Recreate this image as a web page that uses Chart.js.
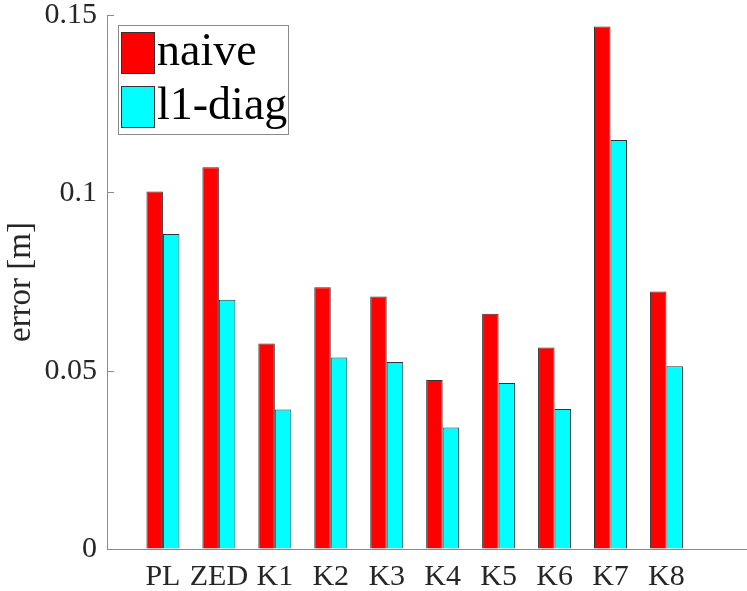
<!DOCTYPE html>
<html>
<head>
<meta charset="utf-8">
<script src="https://cdn.jsdelivr.net/npm/chart.js@4/dist/chart.umd.min.js"></script>
<style>
  html, body { margin: 0; padding: 0; background: #fff; }
  canvas { display: block; }
</style>
</head>
<body>
<canvas id="chart" width="747" height="591"></canvas>
<script>
// Data
const categories = ['PL', 'ZED', 'K1', 'K2', 'K3', 'K4', 'K5', 'K6', 'K7', 'K8'];
const naive = [0.1004, 0.1072, 0.0577, 0.0735, 0.0709, 0.0475, 0.0661, 0.0566, 0.1468, 0.0723];
const l1Diag = [0.0885, 0.0700, 0.0392, 0.0538, 0.0525, 0.0341, 0.0466, 0.0393, 0.1149, 0.0513];
const yTicks = [0, 0.05, 0.1, 0.15];

const serif = '"Liberation Serif", "Times New Roman", serif';
const axisColor = '#8a8a8a';
const textColor = '#262626';

// MATLAB-like legend box drawn inside the axes (top-left)
const boxLegend = {
  id: 'boxLegend',
  afterDraw(chart) {
    const { ctx, chartArea } = chart;
    const x = chartArea.left + 11;
    const y = chartArea.top + 10;
    ctx.save();
    ctx.fillStyle = '#fff';
    ctx.fillRect(x, y, 170, 109);
    ctx.strokeStyle = axisColor;
    ctx.lineWidth = 1;
    ctx.strokeRect(x + 0.5, y + 0.5, 170, 109);
    ctx.font = '46px ' + serif;
    ctx.textBaseline = 'alphabetic';
    chart.data.datasets.forEach((ds, i) => {
      const sy = y + 7 + i * 54;
      ctx.fillStyle = ds.backgroundColor;
      ctx.fillRect(x + 3, sy, 33, 41);
      ctx.strokeStyle = '#333';
      ctx.strokeRect(x + 3.5, sy + 0.5, 33, 41);
      ctx.fillStyle = '#000';
      ctx.fillText(ds.label, x + 39, y + 40 + i * 54);
    });
    ctx.restore();
  }
};

new Chart(document.getElementById('chart'), {
  type: 'bar',
  data: {
    datasets: [{
      label: 'naive',
      data: categories.map((c, i) => ({ x: i + 1, y: naive[i] })),
      backgroundColor: '#ff0000',
      borderColor: '#333',
      borderWidth: 1
    }, {
      label: 'l1-diag',
      data: categories.map((c, i) => ({ x: i + 1, y: l1Diag[i] })),
      backgroundColor: '#00ffff',
      borderColor: '#333',
      borderWidth: 1
    }]
  },
  options: {
    responsive: false,
    animation: false,
    categoryPercentage: 0.59,
    barPercentage: 1,
    layout: { padding: { top: 0, right: 0, left: 0, bottom: 0 } },
    plugins: {
      legend: { display: false },
      tooltip: { enabled: false }
    },
    scales: {
      x: {
        type: 'linear',
        min: 0,
        max: 11.44,
        offset: false,
        grid: { display: false, offset: false },
        border: { display: true, color: axisColor, width: 1 },
        afterBuildTicks: scale => {
          scale.ticks = categories.map((c, i) => ({ value: i + 1 }));
        },
        afterFit: scale => { scale.height = 42; },
        ticks: {
          autoSkip: false,
          maxRotation: 0,
          padding: 2,
          color: textColor,
          font: { family: serif, size: 30 },
          callback: v => categories[v - 1] || ''
        }
      },
      y: {
        min: 0,
        max: 0.15,
        afterBuildTicks: scale => {
          scale.ticks = yTicks.map(v => ({ value: v }));
        },
        afterFit: scale => {
          scale.width = 107;
          scale.paddingTop = 15;
        },
        grid: {
          display: true,
          drawOnChartArea: false,
          drawTicks: true,
          tickLength: -7,
          color: axisColor
        },
        border: { display: true, color: axisColor, width: 1 },
        ticks: {
          padding: 17,
          color: textColor,
          font: { family: serif, size: 30, lineHeight: 1 },
          callback: v => String(+v.toFixed(2))
        },
        title: {
          display: true,
          text: 'error [m]',
          color: textColor,
          padding: { top: 2, bottom: 0 },
          font: { family: serif, size: 33 }
        }
      }
    }
  },
  plugins: [boxLegend]
});
</script>
</body>
</html>
